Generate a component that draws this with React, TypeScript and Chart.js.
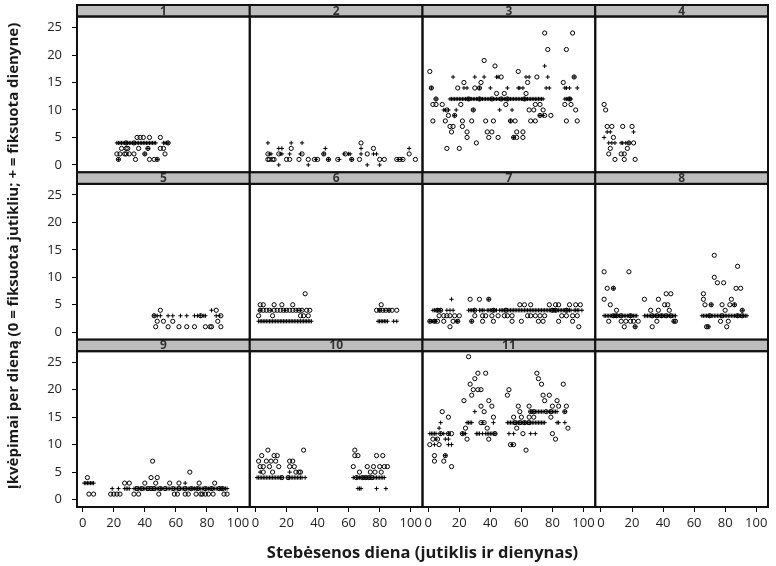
import React, { useEffect, useRef } from 'react';
import { Chart, registerables } from 'chart.js';

Chart.register(...registerables);

type Pt = [number, number];

const panelLabels: string[] = ['1', '2', '3', '4', '5', '6', '7', '8', '9', '10', '11'];
const xTickValues: number[] = [0, 20, 40, 60, 80, 100];
const yTickValues: number[] = [0, 5, 10, 15, 20, 25];
const xTitle = 'Stebėsenos diena (jutiklis ir dienynas)';
const yTitle = 'Įkvėpimai per dieną (0 = fiksuota jutikliu; + = fiksuota dienyne)';

// panel 1
const s1: Pt[] = [[35,5],[37,5],[39,5],[43,5],[50,5],[28,4],[33,4],[55,4],[25,3],[28,3],[29,3],[36,3],[42,3],[50,3],[52,3],[22,2],[24,2],[27,2],[28,2],[30,2],[33,2],[40,2],[53,2],[23,1],[34,1],[43,1],[46,1],[48,1]];
const d1: Pt[] = [[22,4],[23,4],[24,4],[25,4],[26,4],[27,4],[28,4],[29,4],[30,4],[31,4],[32,4],[33,4],[34,4],[35,4],[36,4],[37,4],[38,4],[39,4],[40,4],[41,4],[42,4],[43,4],[44,4],[45,4],[46,4],[47,4],[52,4],[53,4],[54,4],[55,4],[42,3],[40,2],[23,1],[48,1]];
// panel 2
const s2: Pt[] = [[68,4],[23,3],[76,3],[8,2],[15,2],[30,2],[44,2],[58,2],[72,2],[99,2],[8,1],[9,1],[11,1],[12,1],[20,1],[22,1],[28,1],[34,1],[38,1],[40,1],[47,1],[53,1],[62,1],[67,1],[80,1],[83,1],[91,1],[93,1],[95,1],[103,1]];
const d2: Pt[] = [[8,4],[23,4],[30,4],[15,3],[17,3],[45,3],[68,3],[99,3],[9,2],[10,2],[16,2],[17,2],[22,2],[29,2],[44,2],[57,2],[60,2],[61,2],[68,2],[76,2],[78,2],[39,1],[47,1],[54,1],[62,1],[92,1],[94,1],[15,0],[34,0],[72,0],[80,0]];
// panel 3
const s3: Pt[] = [[75,24],[93,24],[77,21],[89,21],[36,19],[43,18],[1,17],[58,17],[47,16],[70,16],[94,16],[23,15],[34,15],[64,15],[87,15],[2,14],[19,14],[30,14],[33,14],[44,13],[49,13],[63,13],[5,12],[26,12],[33,12],[41,12],[47,12],[51,12],[62,12],[91,12],[3,11],[5,11],[9,11],[21,11],[50,11],[69,11],[72,11],[88,11],[92,11],[12,10],[29,10],[65,10],[68,10],[74,10],[95,10],[13,9],[17,9],[72,9],[75,9],[79,9],[3,8],[11,8],[22,8],[28,8],[37,8],[42,8],[53,8],[56,8],[66,8],[69,8],[89,8],[96,8],[14,7],[16,7],[22,7],[15,6],[25,6],[38,6],[41,6],[57,6],[61,6],[25,5],[39,5],[45,5],[55,5],[57,5],[61,5],[31,4],[12,3],[20,3]];
const d3: Pt[] = [[75,18],[16,16],[30,16],[36,16],[44,16],[45,16],[63,16],[65,16],[77,16],[94,16],[2,14],[23,14],[25,14],[33,14],[40,14],[51,14],[58,14],[59,14],[61,14],[76,14],[78,14],[88,14],[89,14],[91,14],[96,14],[5,12],[14,12],[15,12],[16,12],[17,12],[18,12],[19,12],[20,12],[21,12],[22,12],[23,12],[24,12],[25,12],[26,12],[27,12],[28,12],[29,12],[30,12],[31,12],[32,12],[33,12],[34,12],[35,12],[36,12],[37,12],[38,12],[39,12],[40,12],[41,12],[42,12],[43,12],[44,12],[45,12],[46,12],[47,12],[48,12],[49,12],[50,12],[51,12],[52,12],[53,12],[54,12],[55,12],[56,12],[57,12],[58,12],[59,12],[60,12],[61,12],[62,12],[63,12],[64,12],[65,12],[66,12],[67,12],[68,12],[69,12],[70,12],[71,12],[72,12],[73,12],[74,12],[88,12],[89,12],[90,12],[91,12],[92,12],[10,10],[11,10],[13,10],[18,10],[29,10],[46,10],[54,10],[17,9],[72,9],[74,9],[53,8],[55,5]];
// panel 4
const s4: Pt[] = [[2,11],[3,10],[4,7],[7,7],[14,7],[20,7],[8,5],[18,4],[21,4],[6,3],[17,3],[5,2],[13,2],[15,2],[9,1],[15,1],[22,1]];
const d4: Pt[] = [[4,6],[6,6],[21,6],[2,5],[5,4],[7,4],[9,4],[13,4],[14,4],[16,4],[18,4]];
// panel 5
const s5: Pt[] = [[50,4],[86,4],[46,3],[76,3],[89,3],[48,2],[52,2],[58,2],[87,2],[47,1],[55,1],[62,1],[67,1],[72,1],[79,1],[82,1],[83,1],[89,1]];
const d5: Pt[] = [[83,4],[46,3],[48,3],[50,3],[55,3],[58,3],[63,3],[67,3],[72,3],[74,3],[76,3],[78,3],[79,3],[86,3],[88,3]];
// panel 6
const s6: Pt[] = [[32,7],[3,5],[5,5],[12,5],[17,5],[24,5],[81,5],[3,4],[5,4],[7,4],[9,4],[12,4],[14,4],[16,4],[18,4],[20,4],[22,4],[24,4],[26,4],[28,4],[30,4],[33,4],[35,4],[78,4],[80,4],[82,4],[84,4],[86,4],[88,4],[91,4],[2,3],[11,3],[29,3],[31,3],[34,3]];
const d6: Pt[] = [[3,4],[10,4],[19,4],[27,4],[29,4],[80,4],[83,4],[86,4],[2,2],[3,2],[4,2],[5,2],[6,2],[7,2],[8,2],[9,2],[10,2],[11,2],[12,2],[13,2],[14,2],[15,2],[16,2],[17,2],[18,2],[19,2],[20,2],[21,2],[22,2],[23,2],[24,2],[25,2],[26,2],[27,2],[28,2],[29,2],[30,2],[31,2],[32,2],[33,2],[34,2],[35,2],[36,2],[79,2],[80,2],[81,2],[82,2],[83,2],[84,2],[85,2],[89,2],[91,2]];
// panel 7
const s7: Pt[] = [[27,6],[33,6],[39,6],[59,5],[62,5],[66,5],[78,5],[82,5],[84,5],[91,5],[95,5],[98,5],[6,4],[8,4],[30,4],[42,4],[50,4],[80,4],[82,4],[89,4],[7,3],[10,3],[12,3],[14,3],[17,3],[20,3],[30,3],[35,3],[37,3],[41,3],[45,3],[49,3],[51,3],[54,3],[64,3],[66,3],[69,3],[72,3],[75,3],[86,3],[89,3],[93,3],[96,3],[1,2],[4,2],[6,2],[10,2],[16,2],[19,2],[28,2],[35,2],[42,2],[54,2],[60,2],[71,2],[74,2],[84,2],[93,2],[14,1],[97,1]];
const d7: Pt[] = [[15,6],[39,6],[3,4],[4,4],[5,4],[6,4],[8,4],[12,4],[14,4],[16,4],[26,4],[27,4],[28,4],[29,4],[30,4],[33,4],[34,4],[35,4],[36,4],[38,4],[39,4],[40,4],[41,4],[42,4],[43,4],[44,4],[46,4],[47,4],[48,4],[49,4],[50,4],[51,4],[52,4],[53,4],[54,4],[55,4],[56,4],[57,4],[58,4],[59,4],[60,4],[61,4],[62,4],[63,4],[64,4],[65,4],[66,4],[67,4],[68,4],[69,4],[70,4],[71,4],[72,4],[73,4],[74,4],[75,4],[76,4],[77,4],[78,4],[79,4],[80,4],[81,4],[82,4],[83,4],[84,4],[85,4],[86,4],[87,4],[88,4],[89,4],[90,4],[91,4],[92,4],[94,4],[95,4],[96,4],[97,4],[99,4],[1,2],[2,2],[3,2],[4,2],[5,2],[18,2],[19,2],[28,2]];
// panel 8
const s8: Pt[] = [[73,14],[88,12],[2,11],[18,11],[73,10],[75,9],[79,9],[4,8],[8,8],[87,8],[90,8],[66,7],[42,7],[45,7],[2,6],[28,6],[37,6],[66,6],[84,6],[6,5],[41,5],[43,5],[67,5],[71,5],[78,5],[83,5],[86,5],[10,4],[32,4],[37,4],[44,4],[80,4],[91,4],[8,3],[10,3],[13,3],[19,3],[33,3],[36,3],[39,3],[42,3],[45,3],[70,3],[78,3],[88,3],[91,3],[5,2],[13,2],[16,2],[19,2],[21,2],[24,2],[36,2],[47,2],[48,2],[77,2],[82,2],[15,1],[22,1],[33,1],[68,1],[69,1],[81,1]];
const d8: Pt[] = [[8,8],[71,5],[86,5],[91,4],[2,3],[3,3],[4,3],[5,3],[6,3],[7,3],[8,3],[9,3],[10,3],[11,3],[12,3],[13,3],[14,3],[15,3],[16,3],[17,3],[18,3],[19,3],[20,3],[21,3],[22,3],[23,3],[28,3],[29,3],[30,3],[31,3],[32,3],[33,3],[34,3],[35,3],[36,3],[37,3],[38,3],[39,3],[40,3],[41,3],[42,3],[43,3],[44,3],[45,3],[46,3],[47,3],[48,3],[65,3],[66,3],[67,3],[68,3],[69,3],[70,3],[71,3],[72,3],[73,3],[74,3],[75,3],[76,3],[77,3],[78,3],[79,3],[80,3],[81,3],[82,3],[83,3],[84,3],[85,3],[86,3],[87,3],[88,3],[89,3],[90,3],[91,3],[92,3],[93,3],[94,3],[47,2],[22,1],[69,1]];
// panel 9
const s9: Pt[] = [[45,7],[69,5],[3,4],[44,4],[48,4],[27,3],[30,3],[40,3],[47,3],[56,3],[62,3],[75,3],[85,3],[35,2],[38,2],[42,2],[44,2],[46,2],[50,2],[53,2],[58,2],[62,2],[66,2],[70,2],[74,2],[79,2],[83,2],[88,2],[90,2],[4,1],[7,1],[18,1],[20,1],[22,1],[24,1],[33,1],[36,1],[49,1],[59,1],[61,1],[66,1],[68,1],[73,1],[76,1],[77,1],[79,1],[81,1],[84,1],[91,1],[93,1]];
const d9: Pt[] = [[1,3],[2,3],[3,3],[4,3],[5,3],[6,3],[7,3],[66,3],[19,2],[23,2],[27,2],[28,2],[29,2],[30,2],[33,2],[34,2],[35,2],[36,2],[37,2],[38,2],[39,2],[40,2],[41,2],[42,2],[43,2],[44,2],[45,2],[46,2],[47,2],[48,2],[49,2],[50,2],[51,2],[53,2],[54,2],[55,2],[56,2],[58,2],[59,2],[60,2],[61,2],[62,2],[63,2],[64,2],[65,2],[66,2],[67,2],[68,2],[69,2],[70,2],[71,2],[72,2],[73,2],[74,2],[75,2],[76,2],[77,2],[78,2],[79,2],[80,2],[81,2],[82,2],[83,2],[84,2],[85,2],[86,2],[87,2],[88,2],[89,2],[90,2],[91,2],[92,2],[93,2]];
// panel 10
const s10: Pt[] = [[8,9],[31,9],[64,9],[4,8],[12,8],[14,8],[64,8],[66,8],[78,8],[82,8],[2,7],[7,7],[10,7],[13,7],[22,7],[24,7],[3,6],[5,6],[9,6],[15,6],[22,6],[25,6],[63,6],[72,6],[76,6],[80,6],[83,6],[85,6],[5,5],[11,5],[26,5],[28,5],[29,5],[67,5],[74,5],[77,5],[81,5],[17,4],[21,4],[65,4],[69,4],[71,4],[73,4],[75,4]];
const d10: Pt[] = [[3,5],[22,5],[1,4],[2,4],[3,4],[4,4],[5,4],[6,4],[7,4],[8,4],[9,4],[10,4],[11,4],[12,4],[13,4],[14,4],[15,4],[16,4],[17,4],[21,4],[22,4],[23,4],[24,4],[25,4],[26,4],[27,4],[28,4],[29,4],[30,4],[32,4],[63,4],[65,4],[66,4],[67,4],[68,4],[69,4],[70,4],[71,4],[72,4],[73,4],[74,4],[75,4],[76,4],[77,4],[78,4],[79,4],[80,4],[81,4],[82,4],[83,4],[66,2],[67,2],[68,2],[78,2],[84,2]];
// panel 11
const s11: Pt[] = [[26,26],[32,23],[37,23],[70,23],[30,22],[71,22],[27,21],[73,21],[87,21],[29,20],[32,20],[34,20],[52,20],[28,19],[51,19],[74,19],[78,19],[23,18],[39,18],[75,18],[83,18],[34,17],[41,17],[58,17],[65,17],[80,17],[84,17],[89,17],[9,16],[36,16],[59,16],[66,16],[68,16],[76,16],[79,16],[88,16],[13,15],[42,15],[55,15],[60,15],[65,15],[68,15],[79,15],[34,14],[36,14],[56,14],[59,14],[62,14],[65,14],[24,13],[38,13],[57,13],[90,13],[8,12],[13,12],[15,12],[22,12],[43,12],[61,12],[80,12],[3,11],[6,11],[25,11],[39,11],[82,11],[1,10],[7,10],[53,10],[55,10],[63,9],[4,8],[11,8],[4,7],[10,7],[15,6]];
const d11: Pt[] = [[30,16],[66,16],[67,16],[68,16],[69,16],[70,16],[71,16],[72,16],[73,16],[74,16],[76,16],[78,16],[79,16],[80,16],[81,16],[82,16],[83,16],[88,16],[8,14],[25,14],[26,14],[27,14],[28,14],[35,14],[42,14],[51,14],[52,14],[53,14],[54,14],[55,14],[56,14],[57,14],[58,14],[59,14],[60,14],[61,14],[62,14],[63,14],[64,14],[65,14],[66,14],[67,14],[68,14],[69,14],[70,14],[71,14],[72,14],[73,14],[74,14],[75,14],[83,14],[84,14],[88,14],[7,13],[1,12],[2,12],[3,12],[4,12],[5,12],[8,12],[10,12],[13,12],[22,12],[23,12],[24,12],[31,12],[32,12],[33,12],[35,12],[37,12],[38,12],[39,12],[40,12],[41,12],[42,12],[43,12],[52,12],[55,12],[66,12],[69,12],[5,11],[11,11],[13,11],[4,10],[13,10],[15,10],[54,10],[11,8]];

const sensorSeries: Pt[][] = [s1, s2, s3, s4, s5, s6, s7, s8, s9, s10, s11];
const diarySeries: Pt[][] = [d1, d2, d3, d4, d5, d6, d7, d8, d9, d10, d11];

const N_COLS = 4;
const N_ROWS = 3;
const X_MIN = -3.7;
const X_MAX = 107.6;
const Y_MIN = -1.35;
const Y_PANEL_TOP = 27;
const Y_MAX = 29.1;
const FONT = '"Open Sans", "DejaVu Sans", sans-serif';

const trellisPlugin = {
  id: 'trellis',
  afterDraw(chart: any) {
    const ctx = chart.ctx;
    ctx.save();
    for (let r = 0; r < N_ROWS; r++) {
      const ys = chart.scales[`y${r}`];
      const stripBottom = ys.getPixelForValue(Y_PANEL_TOP);
      for (let c = 0; c < N_COLS; c++) {
        const xs = chart.scales[`x${c}`];
        const i = r * N_COLS + c;
        ctx.fillStyle = '#bdbdbd';
        ctx.fillRect(xs.left, ys.top, xs.width, stripBottom - ys.top);
        if (panelLabels[i]) {
          ctx.fillStyle = '#333';
          ctx.font = `bold 12px ${FONT}`;
          ctx.textAlign = 'center';
          ctx.textBaseline = 'middle';
          ctx.fillText(panelLabels[i], (xs.left + xs.right) / 2, (ys.top + stripBottom) / 2 + 0.5);
        }
        ctx.strokeStyle = '#111';
        ctx.lineWidth = 2;
        ctx.strokeRect(xs.left, ys.top, xs.width, stripBottom - ys.top);
        ctx.strokeRect(xs.left, stripBottom, xs.width, ys.bottom - stripBottom);
      }
    }
    const area = chart.chartArea;
    ctx.fillStyle = '#1a1a1a';
    ctx.textAlign = 'center';
    ctx.textBaseline = 'middle';
    ctx.font = `bold 16.5px ${FONT}`;
    ctx.fillText(xTitle, (area.left + area.right) / 2, 553);
    ctx.translate(14, (area.top + area.bottom) / 2);
    ctx.rotate(-Math.PI / 2);
    ctx.font = `bold 15px ${FONT}`;
    ctx.fillText(yTitle, 0, 0);
    ctx.restore();
  },
};

export default function App() {
  const canvasRef = useRef<HTMLCanvasElement | null>(null);

  useEffect(() => {
    if (!canvasRef.current) return;
    const datasets: any[] = [];
    panelLabels.forEach((_, i) => {
      const xAxisID = `x${i % N_COLS}`;
      const yAxisID = `y${Math.floor(i / N_COLS)}`;
      datasets.push({
        label: `jutiklis ${panelLabels[i]}`,
        data: sensorSeries[i].map(([x, y]) => ({ x, y })),
        xAxisID,
        yAxisID,
        pointStyle: 'circle',
        pointRadius: 2.1,
        pointBorderWidth: 1,
        borderColor: '#000',
        backgroundColor: 'rgba(0,0,0,0)',
        pointBorderColor: '#000',
        pointBackgroundColor: 'rgba(0,0,0,0)',
      });
      datasets.push({
        label: `dienynas ${panelLabels[i]}`,
        data: diarySeries[i].map(([x, y]) => ({ x, y })),
        xAxisID,
        yAxisID,
        pointStyle: 'cross',
        pointRadius: 2.1,
        pointBorderWidth: 1,
        borderColor: '#000',
        backgroundColor: '#000',
        pointBorderColor: '#000',
      });
    });

    const scales: any = {};
    for (let c = 0; c < N_COLS; c++) {
      scales[`x${c}`] = {
        type: 'linear',
        position: 'bottom',
        stack: 'cols',
        stackWeight: 1,
        min: X_MIN,
        max: X_MAX,
        afterBuildTicks: (s: any) => {
          s.ticks = xTickValues.map((v) => ({ value: v }));
        },
        afterFit: (s: any) => {
          s.height = 59;
          s.paddingLeft = 0;
          s.paddingRight = 0;
        },
        ticks: {
          autoSkip: false,
          maxRotation: 0,
          minRotation: 0,
          padding: 3,
          color: '#222',
          font: { family: FONT, size: 13 },
        },
        grid: { display: true, drawOnChartArea: false, drawTicks: true, tickLength: 5, color: '#000', lineWidth: 1 },
        border: { display: false },
      };
    }
    for (let r = 0; r < N_ROWS; r++) {
      scales[`y${r}`] = {
        type: 'linear',
        position: 'left',
        stack: 'rows',
        stackWeight: 1,
        weight: N_ROWS - r,
        min: Y_MIN,
        max: Y_MAX,
        afterBuildTicks: (s: any) => {
          s.ticks = yTickValues.map((v) => ({ value: v }));
        },
        afterFit: (s: any) => {
          s.width = 77;
          s.paddingTop = 0;
          s.paddingBottom = 0;
        },
        ticks: {
          autoSkip: false,
          padding: 10,
          color: '#222',
          font: { family: FONT, size: 13 },
        },
        grid: { display: true, drawOnChartArea: false, drawTicks: true, tickLength: 5, color: '#000', lineWidth: 1 },
        border: { display: false },
      };
    }

    const chart = new Chart(canvasRef.current, {
      type: 'scatter',
      data: { datasets },
      options: {
        animation: false,
        responsive: false,
        devicePixelRatio: 1,
        events: [],
        layout: { padding: { top: 5, right: 8, bottom: 0, left: 0 } },
        plugins: { legend: { display: false }, tooltip: { enabled: false }, title: { display: false } },
        scales,
      },
      plugins: [trellisPlugin],
    } as any);
    return () => chart.destroy();
  }, []);

  return (
    <div style={{ position: 'fixed', left: 0, top: 0, width: 776, height: 566, background: '#fff' }}>
      <canvas ref={canvasRef} width={776} height={566} style={{ width: 776, height: 566 }} />
    </div>
  );
}
